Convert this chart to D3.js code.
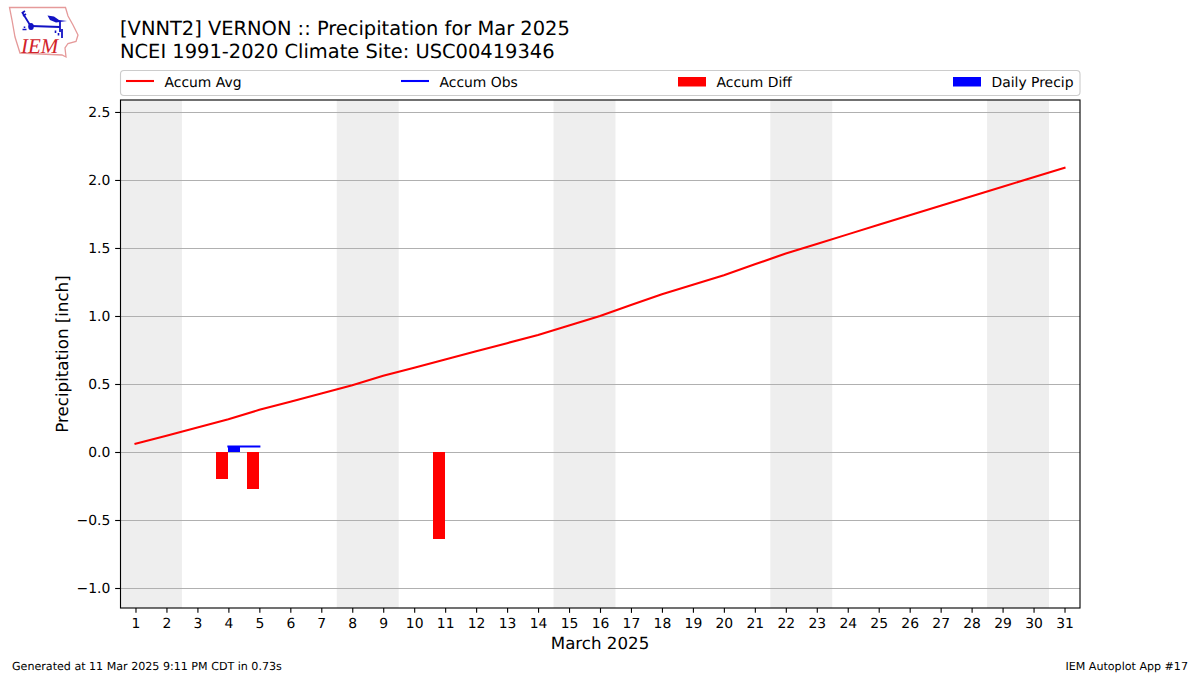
<!DOCTYPE html>
<html>
<head>
<meta charset="utf-8">
<script src="https://cdnjs.cloudflare.com/ajax/libs/d3/7.8.5/d3.min.js"></script>
<style>
  html, body { margin: 0; padding: 0; background: #fff; }
  svg { display: block; }
  text { font-family: "DejaVu Sans", sans-serif; fill: #000; text-rendering: geometricPrecision; }
</style>
</head>
<body>
<div id="chart"></div>
<script>
const days = d3.range(1, 32)
const accumAvg = [0.06, 0.12, 0.18, 0.24, 0.31, 0.37, 0.43, 0.49, 0.56, 0.62, 0.68, 0.74, 0.80, 0.86, 0.93, 1.00,
  1.08, 1.16, 1.23, 1.30, 1.38, 1.46, 1.53, 1.60, 1.67, 1.74, 1.81, 1.88, 1.95, 2.02, 2.09]
const obsDays = [4, 5]
const accumObs = [0.04, 0.04]
const diffDays = [4, 5, 11]
const accumDiff = [-0.20, -0.27, -0.64]
const precipDays = [4]
const dailyPrecip = [0.04]
const weekendStarts = [0.5, 7.5, 14.5, 21.5, 28.5]
const yTicks = [-1.0, -0.5, 0.0, 0.5, 1.0, 1.5, 2.0, 2.5]
const legendLabels = ['Accum Avg', 'Accum Obs', 'Accum Diff', 'Daily Precip']

const w = 1200
const h = 675
const plot = { left: 120, right: 1080, top: 100, bottom: 608 }

const svg = d3.select('#chart')
  .append('svg')
  .attr('width', w)
  .attr('height', h)

const xScale = d3.scaleLinear()
  .domain([0.5, 31.5])
  .range([plot.left, plot.right])

const yScale = d3.scaleLinear()
  .domain([-1.147, 2.588])
  .range([plot.bottom, plot.top])

// weekend shading
svg.append('g')
  .selectAll('rect')
  .data(weekendStarts)
  .enter()
  .append('rect')
  .attr('x', d => xScale(d))
  .attr('width', d => xScale(d + 2) - xScale(d))
  .attr('y', plot.top)
  .attr('height', plot.bottom - plot.top)
  .attr('fill', '#eeeeee')

// grid, snapped to the pixel row
svg.append('g')
  .selectAll('line')
  .data(yTicks)
  .enter()
  .append('line')
  .attr('x1', plot.left)
  .attr('x2', plot.right)
  .attr('y1', d => Math.round(yScale(d)) + 0.5)
  .attr('y2', d => Math.round(yScale(d)) + 0.5)
  .attr('stroke', '#b0b0b0')
  .attr('stroke-width', 1.11)

// bars sit either side of the day tick
svg.append('g')
  .attr('shape-rendering', 'crispEdges')
  .selectAll('rect')
  .data(diffDays)
  .enter()
  .append('rect')
  .attr('x', d => xScale(d - 0.4))
  .attr('width', xScale(0.4) - xScale(0))
  .attr('y', yScale(0))
  .attr('height', (d, i) => yScale(accumDiff[i]) - yScale(0))
  .attr('fill', '#ff0000')

svg.append('g')
  .attr('shape-rendering', 'crispEdges')
  .selectAll('rect')
  .data(precipDays)
  .enter()
  .append('rect')
  .attr('x', d => xScale(d) - 0.4)
  .attr('width', xScale(0.4) - xScale(0))
  .attr('y', (d, i) => yScale(dailyPrecip[i]))
  .attr('height', (d, i) => yScale(0) - yScale(dailyPrecip[i]))
  .attr('fill', '#0000ff')

const line = d3.line()
  .x(d => xScale(d[0]))
  .y(d => yScale(d[1]))

svg.append('path')
  .attr('d', line(days.map((d, i) => [d, accumAvg[i]])))
  .attr('fill', 'none')
  .attr('stroke', '#ff0000')
  .attr('stroke-width', 2.08)
  .attr('stroke-linecap', 'square')

svg.append('path')
  .attr('d', line(obsDays.map((d, i) => [d, accumObs[i]])))
  .attr('fill', 'none')
  .attr('stroke', '#0000ff')
  .attr('stroke-width', 2.08)
  .attr('stroke-linecap', 'square')

// axes
const xAxis = d3.axisBottom(xScale)
  .tickValues(days)
  .tickFormat(d3.format('d'))
  .tickSize(4.86)
  .tickPadding(4.9)

const yAxis = d3.axisLeft(yScale)
  .tickValues(yTicks)
  .tickFormat(t => d3.format('.1f')(t).replace('-', '\u2212'))
  .tickSize(4.86)
  .tickPadding(4.9)

svg.append('g')
  .attr('transform', 'translate(0, ' + plot.bottom + ')')
  .call(xAxis)
  .call(g => g.select('.domain').remove())
  .call(g => g.selectAll('line').attr('stroke-width', 1.11))
  .call(g => g.selectAll('text').attr('font-size', 13.9).attr('font-family', '"DejaVu Sans"'))

svg.append('g')
  .attr('transform', 'translate(' + plot.left + ', 0)')
  .call(yAxis)
  .call(g => g.select('.domain').remove())
  .call(g => g.selectAll('line').attr('stroke-width', 1.11))
  .call(g => g.selectAll('text').attr('font-size', 13.9).attr('font-family', '"DejaVu Sans"'))

svg.append('rect')
  .attr('x', plot.left + 0.5)
  .attr('y', plot.top)
  .attr('width', plot.right - plot.left - 0.5)
  .attr('height', plot.bottom - plot.top)
  .attr('fill', 'none')
  .attr('stroke', '#000')
  .attr('stroke-width', 1.11)

svg.append('text')
  .attr('x', 600)
  .attr('y', 649)
  .attr('text-anchor', 'middle')
  .attr('font-size', 16.67)
  .text('March 2025')

svg.append('text')
  .attr('text-anchor', 'middle')
  .attr('transform', 'translate(67.5, 354) rotate(-90)')
  .attr('font-size', 16.67)
  .text('Precipitation [inch]')

// titles
svg.append('text')
  .attr('x', 120)
  .attr('y', 35)
  .attr('font-size', 19.44)
  .text('[VNNT2] VERNON :: Precipitation for Mar 2025')

svg.append('text')
  .attr('x', 120)
  .attr('y', 57.5)
  .attr('font-size', 19.44)
  .text('NCEI 1991-2020 Climate Site: USC00419346')

// legend
const legend = svg.append('g')

legend.append('rect')
  .attr('x', 120.5)
  .attr('y', 70.5)
  .attr('width', 959.5)
  .attr('height', 25)
  .attr('rx', 3.5)
  .attr('fill', '#fff')
  .attr('stroke', '#cccccc')
  .attr('stroke-width', 1.11)

const legendX = [126, 401, 678, 953]
const legendColors = ['#ff0000', '#0000ff', '#ff0000', '#0000ff']

legendLabels.forEach((label, i) => {
  if (i < 2) {
    legend.append('line')
      .attr('x1', legendX[i])
      .attr('x2', legendX[i] + 28)
      .attr('y1', 81)
      .attr('y2', 81)
      .attr('stroke', legendColors[i])
      .attr('stroke-width', 2.08)
  } else {
    legend.append('rect')
      .attr('x', legendX[i])
      .attr('y', 77)
      .attr('width', 28)
      .attr('height', 9.5)
      .attr('fill', legendColors[i])
  }
  legend.append('text')
    .attr('x', legendX[i] + 38.5)
    .attr('y', 86.5)
    .attr('font-size', 13.9)
    .text(label)
})

// footer
svg.append('text')
  .attr('x', 12)
  .attr('y', 670)
  .attr('font-size', 11.1)
  .text('Generated at 11 Mar 2025 9:11 PM CDT in 0.73s')

svg.append('text')
  .attr('x', 1188)
  .attr('y', 670)
  .attr('text-anchor', 'end')
  .attr('font-size', 11.1)
  .text('IEM Autoplot App #17')

// IEM logo
const logo = svg.append('g')

logo.append('path')
  .attr('d', 'M9.5,7.5 L65.5,7.5 L68,16 L73,25 L78,35 L76,41.5 L68,43.5 L65,48 L66,57 L62,55 L20,53 L15,37 L12,20 Z')
  .attr('fill', '#fff')
  .attr('stroke', '#e59a9a')
  .attr('stroke-width', 1.3)

logo.append('path')
  .attr('d', 'M31,26 L60,27 M60,21 L60,32 M22,12 L30,25 M22,13 L25,11 M23,16 L26,14 M62,29 L62,38')
  .attr('fill', 'none')
  .attr('stroke', '#1212c4')
  .attr('stroke-width', 1.8)

logo.append('path')
  .attr('d', 'M47.5,15.5 L54,16.5 L59,20 L67,21 L56,22.5 L50,20 Z')
  .attr('fill', '#1212c4')

logo.append('ellipse')
  .attr('cx', 31)
  .attr('cy', 26.5)
  .attr('rx', 2.8)
  .attr('ry', 3.6)
  .attr('fill', '#1212c4')

logo.append('path')
  .attr('d', 'M22.5,29.5 h4 M24.5,26.5 v1.5 M55.5,30.5 v2.5 M58.5,33 v2.5')
  .attr('stroke', '#1212c4')
  .attr('stroke-width', 1.6)

logo.append('text')
  .attr('x', 21)
  .attr('y', 52.5)
  .attr('font-size', 21)
  .style('font-family', '"Liberation Serif", serif')
  .style('font-style', 'italic')
  .style('fill', '#d2232a')
  .text('IEM')
</script>
</body>
</html>
